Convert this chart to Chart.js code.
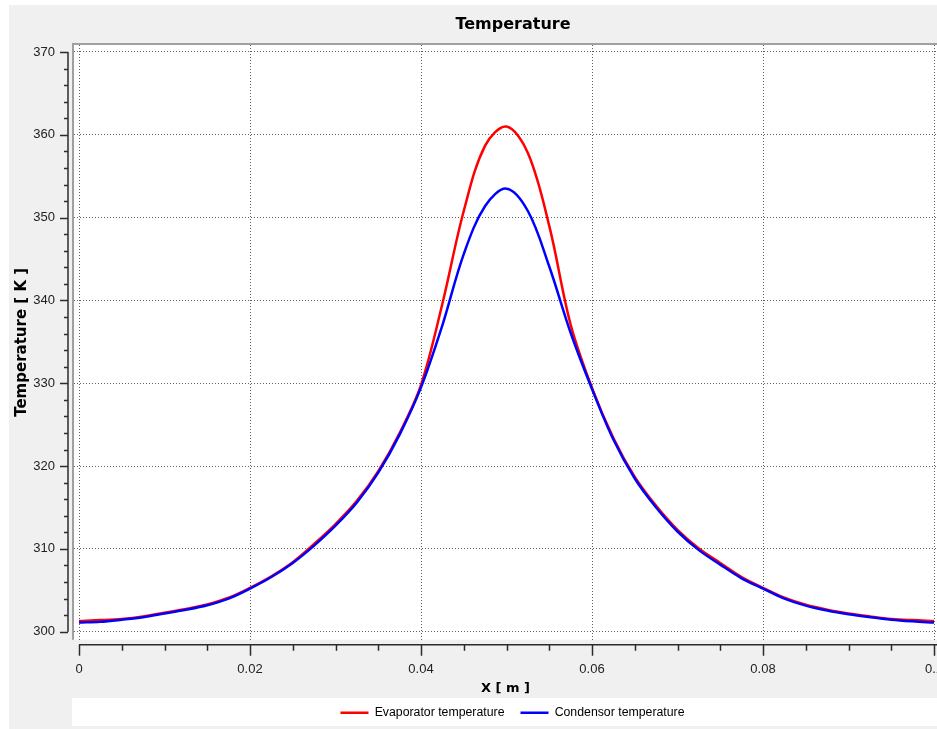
<!DOCTYPE html>
<html>
<head>
<meta charset="utf-8">
<script src="https://cdn.jsdelivr.net/npm/chart.js@4.4.1/dist/chart.umd.min.js"></script>
<style>
  body { margin: 0; background: #ffffff; }
  canvas { display: block; }
</style>
</head>
<body>
<canvas id="temperature_graph" width="937" height="729"></canvas>
<script>
// Position along the pipe [m]
var xValues = [0, 0.0025, 0.005, 0.0075, 0.01, 0.0125, 0.015, 0.0175, 0.02, 0.0225,
               0.025, 0.0275, 0.03, 0.0325, 0.035, 0.0375, 0.04, 0.0425, 0.045, 0.0475,
               0.05, 0.0525, 0.055, 0.0575, 0.06, 0.0625, 0.065, 0.0675, 0.07, 0.0725,
               0.075, 0.0775, 0.08, 0.0825, 0.085, 0.0875, 0.09, 0.0925, 0.095, 0.0975, 0.1];

// Evaporator temperature [K]
var evaporatorTemp = [301.3, 301.4, 301.55, 301.85, 302.3, 302.75, 303.3, 304.1, 305.3, 306.7,
                      308.4, 310.6, 313.0, 315.8, 319.4, 324.0, 329.8, 339.6, 350.8, 358.7,
                      361.0, 357.8, 349.0, 337.1, 329.45, 323.4, 318.7, 315.2, 312.3, 310.05,
                      308.3, 306.6, 305.3, 304.1, 303.25, 302.65, 302.2, 301.85, 301.55, 301.4, 301.3];

// Condensor temperature [K]
var condensorTemp = [301.1, 301.2, 301.45, 301.75, 302.2, 302.65, 303.2, 304.0, 305.2, 306.6,
                     308.3, 310.4, 312.8, 315.6, 319.2, 323.8, 329.5, 337.0, 345.6, 351.4,
                     353.5, 350.8, 344.1, 336.1, 329.3, 323.2, 318.5, 315.0, 312.1, 309.85,
                     308.1, 306.45, 305.2, 304.0, 303.15, 302.55, 302.1, 301.75, 301.45, 301.25, 301.1];

// Tick values and labels
var xTicks = [0, 0.02, 0.04, 0.06, 0.08, 0.1];
var xTickLabels = ['0', '0.02', '0.04', '0.06', '0.08', '0.1'];
var yTicks = [300, 310, 320, 330, 340, 350, 360, 370];
var yTickLabels = ['300', '310', '320', '330', '340', '350', '360', '370'];
var xMinorStep = 0.005;
var yMinorStep = 2;

var evapColor = '#ff0000';
var condColor = '#0000ff';

// Draws the panel background, plot frame and the outside axes with minor ticks
var framePlugin = {
    id: 'frame',
    afterLayout: function (chart) {
        // the original widget centres title and legend a little right of the plot centre
        chart.titleBlock.left += 7.5;
        chart.titleBlock.right += 7.5;
        chart.legend.left += 7;
        chart.legend.right += 7;
    },
    beforeDraw: function (chart) {
        var ctx = chart.ctx;
        var a = chart.chartArea;
        ctx.save();
        ctx.fillStyle = '#ffffff';
        ctx.fillRect(0, 0, chart.width, chart.height);
        ctx.fillStyle = '#f0f0f0';
        ctx.fillRect(9, 5, chart.width - 9, chart.height - 5);
        ctx.fillStyle = '#ffffff';
        ctx.fillRect(a.left, a.top, a.right - a.left, a.bottom - a.top);
        ctx.fillRect(72, 698, chart.width - 72, 28); // legend strip
        ctx.strokeStyle = '#a0a0a0';
        ctx.lineWidth = 2;
        ctx.beginPath();
        ctx.moveTo(a.left - 1, a.bottom);
        ctx.lineTo(a.left - 1, a.top - 1);
        ctx.lineTo(chart.width, a.top - 1);
        ctx.stroke();
        ctx.restore();
    },
    afterDraw: function (chart) {
        var ctx = chart.ctx;
        var a = chart.chartArea;
        var xs = chart.scales.x;
        var ys = chart.scales.y;
        ctx.save();
        ctx.strokeStyle = '#2b2b2b';
        ctx.lineWidth = 1.5;

        // y axis
        var ax = a.left - 6;
        var yTop = ys.getPixelForValue(yTicks[yTicks.length - 1]);
        var yBot = ys.getPixelForValue(yTicks[0]);
        ctx.beginPath();
        ctx.moveTo(ax, yTop);
        ctx.lineTo(ax, yBot);
        for (var v = yTicks[0]; v <= yTicks[yTicks.length - 1] + 0.001; v += yMinorStep) {
            var py = Math.round(ys.getPixelForValue(v)) + 0.5;
            var major = Math.abs((v - yTicks[0]) % 10) < 0.001;
            ctx.moveTo(ax, py);
            ctx.lineTo(ax - (major ? 8 : 4), py);
        }
        ctx.stroke();

        // x axis
        var ay = a.bottom + 5;
        ctx.beginPath();
        ctx.moveTo(xs.getPixelForValue(xTicks[0]), ay);
        ctx.lineTo(chart.width, ay);
        for (var i = 0; i * xMinorStep <= xs.max; i++) {
            var px = Math.round(xs.getPixelForValue(i * xMinorStep)) + 0.5;
            var isMajor = i % 4 === 0;
            ctx.moveTo(px, ay);
            ctx.lineTo(px, ay + (isMajor ? 11 : 6));
        }
        ctx.stroke();

        // x tick labels
        ctx.fillStyle = '#222222';
        ctx.font = '13px "Liberation Sans"';
        ctx.textAlign = 'center';
        ctx.textBaseline = 'middle';
        xTicks.forEach(function (t, k) {
            ctx.fillText(xTickLabels[k], xs.getPixelForValue(t), 669);
        });

        // x axis title
        ctx.fillStyle = '#000000';
        ctx.font = 'bold 13px "DejaVu Sans"';
        ctx.fillText('X [ m ]', (a.left + chart.width) / 2, 689);
        ctx.restore();
    }
};

var canvas = document.getElementById('temperature_graph').getContext('2d');

var temperature_graph = new Chart(canvas, {
    type: 'line',
    data: {
        datasets: [{
            label: 'Evaporator temperature',
            data: xValues.map(function (x, i) { return {x: x, y: evaporatorTemp[i]}; }),
            borderColor: evapColor,
            backgroundColor: evapColor,
            borderWidth: 2.5,
            pointRadius: 0,
            tension: 0.35,
            fill: false,
            order: 1
        },
        {
            label: 'Condensor temperature',
            data: xValues.map(function (x, i) { return {x: x, y: condensorTemp[i]}; }),
            borderColor: condColor,
            backgroundColor: condColor,
            borderWidth: 2.5,
            pointRadius: 0,
            tension: 0.35,
            fill: false,
            order: 0
        }]
    },
    options: {
        responsive: false,
        animation: false,
        devicePixelRatio: 1,
        layout: {
            padding: 0
        },
        plugins: {
            title: {
                display: true,
                text: 'Temperature',
                fullSize: false,
                color: '#000000',
                font: {family: '"DejaVu Sans"', size: 16, weight: 'bold', lineHeight: 1.2},
                padding: {top: 15.4, bottom: 10.4}
            },
            legend: {
                position: 'bottom',
                fullSize: false,
                labels: {
                    usePointStyle: true,
                    pointStyle: 'line',
                    pointStyleWidth: 28,
                    padding: 16,
                    color: '#000000',
                    font: {family: '"Liberation Sans"', size: 12.3},
                    sort: function (a, b) { return a.datasetIndex - b.datasetIndex; }
                }
            },
            tooltip: {enabled: false}
        },
        scales: {
            x: {
                type: 'linear',
                min: -0.000585,
                max: 0.10035,
                afterBuildTicks: function (scale) {
                    scale.ticks = xTicks.map(function (t) { return {value: t}; });
                },
                afterFit: function (scale) { scale.height = 51; },
                ticks: {display: false},
                grid: {color: '#606060', lineWidth: 1, drawTicks: false},
                border: {display: false, dash: [1, 2]}
            },
            y: {
                type: 'linear',
                min: 299.035,
                max: 370.845,
                afterBuildTicks: function (scale) {
                    scale.ticks = yTicks.map(function (t) { return {value: t}; });
                },
                afterFit: function (scale) { scale.width = 74; },
                ticks: {
                    padding: 19,
                    color: '#222222',
                    font: {family: '"Liberation Sans"', size: 13},
                    callback: function (value, index) { return yTickLabels[index]; }
                },
                title: {
                    display: true,
                    text: 'Temperature [ K ]',
                    color: '#000000',
                    font: {family: '"DejaVu Sans"', size: 15, weight: 'bold', lineHeight: 1.2},
                    padding: {top: 13, bottom: 0}
                },
                grid: {color: '#606060', lineWidth: 1, drawTicks: false},
                border: {display: false, dash: [1, 2]}
            }
        }
    },
    plugins: [framePlugin]
});
</script>
</body>
</html>
